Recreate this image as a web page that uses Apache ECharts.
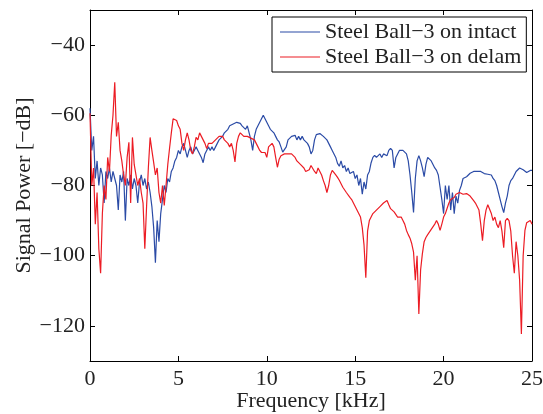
<!DOCTYPE html>
<html>
<head>
<meta charset="utf-8">
<script src="https://cdn.jsdelivr.net/npm/echarts@6/dist/echarts.min.js"></script>
<style>
html,body{margin:0;padding:0;background:#fff;}
#chart{width:543px;height:414px;}
</style>
</head>
<body>
<div id="chart"></div>
<script>
// Frequency grid (kHz), 0.1 kHz sampling from 0 to 25
const freqStep = 0.1;
const freqCount = 251;
const freqKHz = Array.from({length: freqCount}, (_, i) => +(i * freqStep).toFixed(1));

const seriesNames = ['Steel Ball\u22123 on intact', 'Steel Ball\u22123 on delam'];

// Steel Ball-3 on intact (dB)
const intact = [
 -58,-70,-66,-78,-73,-80,-75,-77,-85,-76,
 -78,-75,-79,-76,-78,-80,-87,-77,-79,-76,
 -90,-78,-80,-77,-81,-78,-80,-85,-79,-77,
 -80,-78,-81,-79,-82,-86,-92,-102,-90,-96,
 -88,-84,-80,-82,-78,-79,-76,-75,-73,-72,
 -70,-71,-69,-68,-70,-72,-70,-69,-71,-70,
 -69,-70,-71,-72,-73.5,-71,-70,-69,-70,-69,
 -70,-69,-68,-67,-67.5,-66,-65,-64.5,-64,-63,
 -63.5,-62.5,-62.3,-62,-62.5,-62.3,-63,-63.4,-64,-63,
 -65,-67,-70,-66,-64,-63,-62,-61,-60,-61,
 -62,-63,-64,-64.5,-65,-66,-67,-67.6,-69,-70.5,
 -70,-69,-67,-66.5,-66,-66.5,-65.7,-67,-66,-67,
 -66,-67,-66.5,-68,-69,-71,-70,-67,-65.5,-65,
 -65.2,-65.5,-66,-66.5,-67,-68,-69,-70,-71,-72,
 -73.7,-74.5,-73,-75,-74.3,-76,-75,-76.6,-77,-76,
 -78,-77,-80,-78,-82.5,-79,-81,-77,-76,-73.5,
 -72,-71.4,-72,-71.5,-71,-72,-71,-70.5,-71.5,-70,
 -69.4,-70,-75,-72,-71,-70,-70.5,-70,-69.5,-71,
 -73,-77,-82,-87.7,-78,-73,-71.5,-73,-75,-77.5,
 -74,-72,-72.5,-73,-74,-75,-75.7,-77,-80.5,-84,
 -88,-80,-84,-80,-87,-82,-88,-83,-85,-81.4,
 -80,-78,-77.7,-77.5,-77,-76.5,-76.3,-76,-76.5,-76,
 -75.7,-76,-76.3,-76.6,-76.4,-76.8,-76.5,-77,-78,-78.6,
 -80,-82,-84,-86,-87.7,-85,-83,-80,-78.6,-78,
 -77,-76,-75.5,-75,-75,-75.5,-76,-76.3,-76,-75.7,
 -75.7
];

// Steel Ball-3 on delam (dB)
const delam = [
 -59.4,-80,-75,-91,-82,-98,-105,-88,-80,-84,
 -72,-76,-65.7,-60,-50.6,-66,-62,-70,-73,-77,
 -80,-72,-67.7,-85,-66.3,-74,-77,-80,-78,-82,
 -85,-98,-86,-75,-66.3,-70,-73.4,-77,-75,-82,
 -85,-80,-85.7,-80,-74,-69.4,-65,-61,-60.6,-61.5,
 -63,-64,-68,-70,-67,-65,-67,-70,-71,-69,
 -66.3,-67,-65,-66,-67,-68,-69.5,-68,-67.6,-68,
 -68.5,-67,-66.6,-66,-65.7,-66,-67,-67.5,-68,-69,
 -68,-70,-73.3,-68,-66,-65,-65.5,-66,-66.5,-66,
 -66,-66.5,-67,-67,-68,-69,-70,-70.6,-71,-70.6,
 -72,-69,-68.6,-68,-69,-72,-74.8,-72.5,-71.5,-72,
 -71,-70.6,-71,-71.5,-71,-70.6,-72,-73,-73.4,-74,
 -74,-75,-76,-76.3,-75.5,-74.3,-74.5,-76,-76.6,-75,
 -75.5,-77,-78.6,-80,-82,-80,-77,-75.7,-76,-77,
 -77.7,-78.5,-79,-80.5,-81,-82,-82.5,-83.4,-84,-85,
 -86,-87,-88,-89,-92,-97,-106.3,-93,-90,-89,
 -88,-88.5,-87,-86.5,-86,-85.7,-85,-84.5,-84.3,-85.5,
 -86.6,-87,-87.5,-88,-89,-89.5,-89,-90,-91,-92.8,
 -94,-95,-96.6,-99,-107,-100,-116.6,-104,-99.4,-96,
 -94.8,-94,-93.5,-92.5,-92,-91,-90,-91,-92.8,-91,
 -89,-88,-86.5,-85,-84,-83.7,-83.4,-82.5,-82.3,-82,
 -82.3,-82.5,-82,-82.3,-82.5,-83,-83.5,-84.3,-85,-85.5,
 -87,-91,-95.7,-90,-87,-85.5,-85,-88,-90,-89,
 -91,-92,-90,-93,-97.7,-90,-89.4,-90,-93,-100,
 -105,-96,-100,-107,-122.3,-100,-92.8,-90.6,-91,-90,
 -91
];

const xTicks = [0, 5, 10, 15, 20, 25];
const yTicks = [-120, -100, -80, -60, -40];

const fontFam = '"Liberation Serif", "DejaVu Serif", serif';
const minus = v => String(v).replace('-', '\u2212');

const chart = echarts.init(document.getElementById('chart'), null, {renderer: 'canvas'});

const axisCommon = {
  axisLine: {show: true, onZero: false, lineStyle: {color: '#000', width: 1}},
  axisTick: {show: true, inside: true, length: 5, lineStyle: {color: '#000', width: 1}},
  splitLine: {show: false}
};

chart.setOption({
  animation: false,
  backgroundColor: '#fff',
  grid: {left: 90, right: 11, top: 10, bottom: 53, containLabel: false, outerBoundsMode: 'none'},
  legend: {
    left: 272, top: 17,
    orient: 'vertical',
    backgroundColor: '#fff',
    borderColor: '#000',
    borderWidth: 1,
    borderRadius: 0,
    padding: [4, 5, 4, 8],
    itemGap: 3,
    itemWidth: 40,
    itemHeight: 12,
    textStyle: {fontFamily: fontFam, fontSize: 22, color: '#222', padding: [0, 0, 0, 0]},
    data: seriesNames.map(n => ({name: n, icon: 'path://M0,0 L40,0 L40,1 L0,1 Z'}))
  },
  xAxis: [
    Object.assign({}, axisCommon, {
      type: 'value', min: 0, max: 25, interval: 5, position: 'bottom',
      name: 'Frequency [kHz]', nameLocation: 'middle', nameGap: 29, nameMoveOverlap: false,
      nameTextStyle: {fontFamily: fontFam, fontSize: 22, color: '#222'},
      axisTick: Object.assign({}, axisCommon.axisTick, {customValues: xTicks}),
      axisLabel: {customValues: xTicks, fontFamily: fontFam, fontSize: 22, color: '#222', margin: 7, formatter: minus}
    }),
    Object.assign({}, axisCommon, {
      type: 'value', min: 0, max: 25, interval: 5, position: 'top',
      axisTick: Object.assign({}, axisCommon.axisTick, {customValues: xTicks}),
      axisLabel: {show: false}
    })
  ],
  yAxis: [
    Object.assign({}, axisCommon, {
      type: 'value', min: -130, max: -30, position: 'left',
      name: 'Signal Power [\u2212dB]', nameLocation: 'middle', nameGap: 55, nameMoveOverlap: false,
      nameTextStyle: {fontFamily: fontFam, fontSize: 22, color: '#222'},
      axisTick: Object.assign({}, axisCommon.axisTick, {customValues: yTicks}),
      axisLabel: {customValues: yTicks, fontFamily: fontFam, fontSize: 22, color: '#222', margin: 5, formatter: minus}
    }),
    Object.assign({}, axisCommon, {
      type: 'value', min: -130, max: -30, position: 'right',
      axisTick: Object.assign({}, axisCommon.axisTick, {customValues: yTicks}),
      axisLabel: {show: false}
    })
  ],
  series: [
    {
      name: seriesNames[0], type: 'line', xAxisIndex: 0, yAxisIndex: 0,
      data: freqKHz.map((f, i) => [f, intact[i]]),
      showSymbol: false, symbol: 'none',
      lineStyle: {color: '#2b4ba6', width: 1.2},
      itemStyle: {color: '#2b4ba6'}
    },
    {
      name: seriesNames[1], type: 'line', xAxisIndex: 0, yAxisIndex: 0,
      data: freqKHz.map((f, i) => [f, delam[i]]),
      showSymbol: false, symbol: 'none',
      lineStyle: {color: '#ec1c24', width: 1.2},
      itemStyle: {color: '#ec1c24'}
    }
  ]
});
</script>
</body>
</html>
